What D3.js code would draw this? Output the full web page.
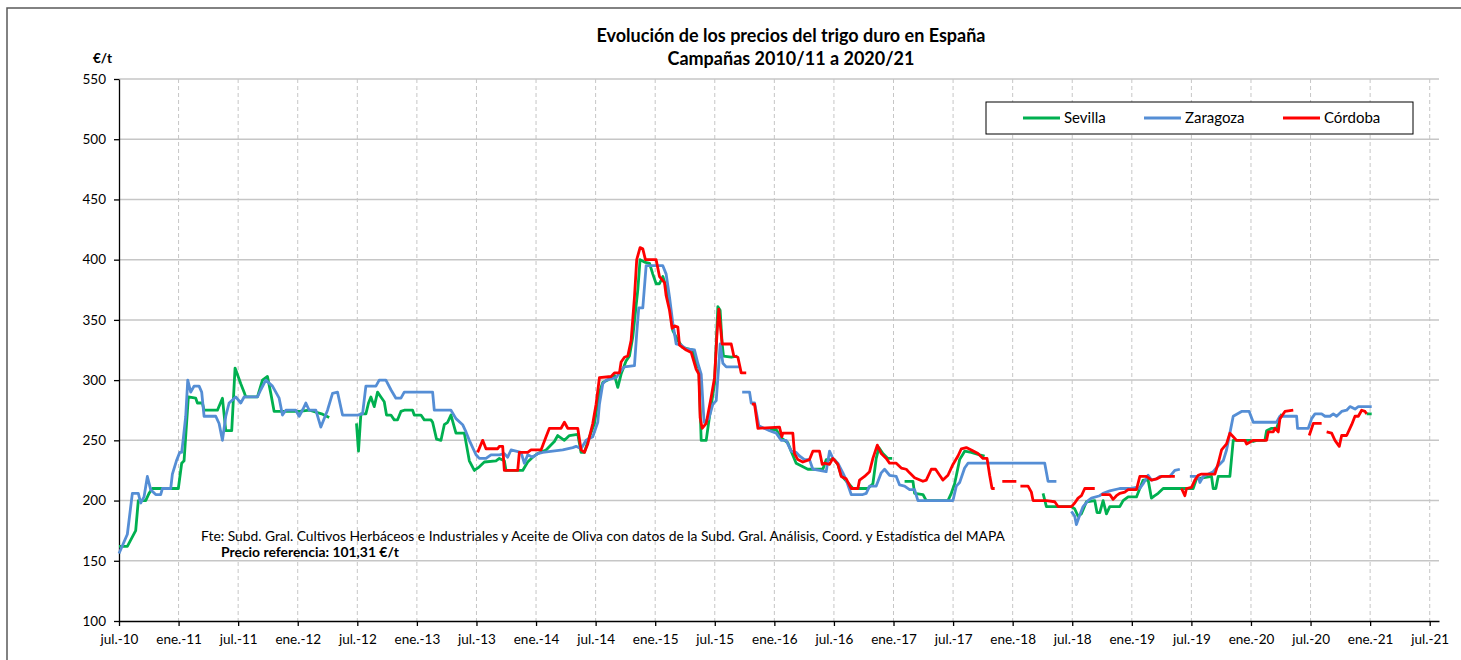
<!DOCTYPE html>
<html>
<head>
<meta charset="utf-8">
<script src="https://d3js.org/d3.v7.min.js"></script>
<style>
  body { margin: 0; background: #fff; }
  text { font-family: Lato, "Open Sans", sans-serif; }
</style>
</head>
<body>
<div id="chart"></div>
<script>

// x = decimal year, y = €/t ; null = no data (gap)
var sevilla = [[2010.50,162],[2010.57,162],[2010.64,175],[2010.662,200],[2010.724,200],[2010.752,206],[2010.78,210],[2010.998,210],[2011.026,231],[2011.046,233],[2011.082,286],[2011.144,285],[2011.158,281],[2011.20,281],[2011.214,275],[2011.326,275],[2011.368,285],[2011.396,258],[2011.446,258],[2011.474,310],[2011.522,297],[2011.55,290],[2011.564,286],[2011.662,286],[2011.704,300],[2011.746,303],[2011.774,289],[2011.802,274],[2012.012,274],[2012.1,275],[2012.2,272],[2012.264,269],[2012.4,null],
  [2012.493,264],[2012.51,241],[2012.53,272],[2012.572,272],[2012.594,281],[2012.614,286],[2012.642,278],[2012.67,290],[2012.698,286],[2012.726,282],[2012.745,271],[2012.782,271],[2012.81,267],[2012.838,267],[2012.866,274],[2012.894,275],[2012.964,275],[2012.978,271],[2013.034,271],[2013.062,267],[2013.118,267],[2013.132,265],[2013.165,251],[2013.202,250],[2013.23,263],[2013.258,265],[2013.286,271],[2013.328,256],[2013.398,256],[2013.44,233],[2013.482,225],[2013.524,228],[2013.566,232],[2013.664,233],[2013.692,235],[2013.734,233],[2013.748,225],[2013.888,225],[2013.93,232],[2013.972,236],[2014.014,239],[2014.084,242],[2014.154,249],[2014.182,254],[2014.238,250],[2014.28,254],[2014.35,255],[2014.378,240],[2014.406,240],[2014.434,249],[2014.49,264],[2014.532,290],[2014.56,298],[2014.602,300],[2014.658,304],[2014.686,294],[2014.714,305],[2014.756,316],[2014.784,320],[2014.812,336],[2014.854,375],[2014.873,400],[2014.91,398],[2014.952,397],[2014.98,388],[2015.008,380],[2015.036,380],[2015.064,386],[2015.092,377],[2015.12,363],[2015.148,341],[2015.19,333],[2015.232,327],[2015.316,325],[2015.344,314],[2015.366,310],[2015.386,250],[2015.428,250],[2015.456,270],[2015.498,297],[2015.526,361],[2015.545,358],[2015.562,330],[2015.573,320],[2015.638,319],[2015.69,320],[2015.8,null],
  [2015.96,259],[2016.015,259],[2016.057,252],[2016.113,248],[2016.141,241],[2016.183,231],[2016.281,226],[2016.407,226],[2016.435,234],[2016.505,234],[2016.533,230],[2016.561,221],[2016.659,210],[2016.785,210],[2016.827,214],[2016.855,235],[2016.877,244],[2016.911,239],[2016.953,235],[2016.989,235],[2017.04,null],
  [2017.093,216],[2017.163,216],[2017.177,206],[2017.247,205],[2017.275,200],[2017.457,200],[2017.485,206],[2017.513,214],[2017.555,234],[2017.597,241],[2017.653,240],[2017.723,238],[2017.765,237],[2018.0,null],
  [2018.255,206],[2018.283,195],[2018.493,195],[2018.521,193],[2018.549,187],[2018.577,189],[2018.619,199],[2018.689,200],[2018.708,190],[2018.731,190],[2018.759,200],[2018.787,189],[2018.815,195],[2018.899,195],[2018.927,200],[2018.969,203],[2019.039,203],[2019.067,210],[2019.095,217],[2019.137,217],[2019.165,202],[2019.193,204],[2019.221,206],[2019.263,210],[2019.515,210],[2019.543,218],[2019.669,220],[2019.683,210],[2019.705,210],[2019.725,220],[2019.823,220],[2019.851,250],[2019.991,250],[2020.019,249],[2020.047,250],[2020.117,250],[2020.131,258],[2020.173,260],[2020.215,260],[2020.243,268],[2020.257,272],[2020.3,null],
  [2020.971,272],[2021.013,272]];

var zaragoza = [[2010.5,156],[2010.57,172],[2010.612,206],[2010.662,206],[2010.682,198],[2010.71,203],[2010.738,220],[2010.766,209],[2010.808,205],[2010.85,205],[2010.864,210],[2010.934,210],[2010.948,222],[2010.982,233],[2011.01,240],[2011.026,240],[2011.038,250],[2011.06,270],[2011.077,300],[2011.102,290],[2011.13,295],[2011.172,295],[2011.194,290],[2011.214,270],[2011.312,270],[2011.34,264],[2011.368,250],[2011.396,270],[2011.424,281],[2011.48,286],[2011.522,281],[2011.55,286],[2011.662,286],[2011.69,292],[2011.732,300],[2011.788,295],[2011.844,285],[2011.872,271],[2011.9,275],[2011.984,275],[2012.012,270],[2012.045,276],[2012.068,281],[2012.096,275],[2012.152,275],[2012.194,261],[2012.25,275],[2012.292,289],[2012.334,290],[2012.376,271],[2012.502,271],[2012.544,272],[2012.572,295],[2012.656,295],[2012.684,300],[2012.74,300],[2012.782,292],[2012.824,285],[2012.866,285],[2012.894,290],[2013.132,290],[2013.146,275],[2013.286,275],[2013.328,268],[2013.384,263],[2013.412,257],[2013.44,250],[2013.496,238],[2013.524,235],[2013.58,235],[2013.622,238],[2013.692,238],[2013.734,239],[2013.762,236],[2013.79,242],[2013.874,240],[2013.902,231],[2013.93,238],[2013.972,236],[2014.014,239],[2014.056,240],[2014.224,242],[2014.308,244],[2014.336,245],[2014.378,243],[2014.42,250],[2014.476,253],[2014.518,265],[2014.532,280],[2014.56,297],[2014.588,300],[2014.672,302],[2014.714,308],[2014.742,311],[2014.826,312],[2014.845,339],[2014.862,360],[2014.896,360],[2014.924,395],[2015.064,395],[2015.092,388],[2015.12,369],[2015.148,347],[2015.176,330],[2015.218,329],[2015.26,326],[2015.33,325],[2015.358,314],[2015.386,305],[2015.41,265],[2015.45,268],[2015.484,280],[2015.512,283],[2015.534,313],[2015.545,330],[2015.568,314],[2015.596,311],[2015.714,311],[2015.722,null],
  [2015.73,290],[2015.792,290],[2015.806,281],[2015.834,281],[2015.87,262],[2015.96,258],[2016.016,256],[2016.057,250],[2016.099,250],[2016.141,241],[2016.183,240],[2016.211,237],[2016.253,234],[2016.295,234],[2016.323,226],[2016.435,224],[2016.463,241],[2016.491,235],[2016.533,231],[2016.575,223],[2016.603,217],[2016.645,205],[2016.743,205],[2016.771,206],[2016.799,212],[2016.855,212],[2016.897,223],[2016.925,226],[2016.967,221],[2017.023,220],[2017.051,213],[2017.093,212],[2017.135,209],[2017.177,209],[2017.205,200],[2017.499,200],[2017.527,212],[2017.555,215],[2017.597,227],[2017.625,231],[2018.269,231],[2018.297,216],[2018.367,216],[2018.43,null],
  [2018.493,191],[2018.521,187],[2018.535,180],[2018.563,188],[2018.591,195],[2018.633,200],[2018.661,202],[2018.731,204],[2018.759,206],[2018.815,208],[2018.899,210],[2018.983,210],[2019.039,211],[2019.067,210],[2019.095,214],[2019.137,221],[2019.165,217],[2019.207,218],[2019.235,220],[2019.319,220],[2019.361,225],[2019.403,226],[2019.44,null],
  [2019.487,220],[2019.557,220],[2019.571,215],[2019.599,220],[2019.683,224],[2019.725,229],[2019.767,233],[2019.795,242],[2019.823,256],[2019.851,270],[2019.921,274],[2019.985,274],[2020.019,265],[2020.215,265],[2020.243,270],[2020.383,270],[2020.391,260],[2020.481,260],[2020.509,268],[2020.537,272],[2020.593,272],[2020.621,270],[2020.663,270],[2020.691,272],[2020.719,270],[2020.761,274],[2020.803,275],[2020.831,278],[2020.873,276],[2020.901,278],[2020.929,278],[2021.013,278]];

var cordoba = [[2013.51,240],[2013.552,250],[2013.58,243],[2013.678,243],[2013.692,245],[2013.72,245],[2013.734,225],[2013.846,225],[2013.86,240],[2013.93,240],[2013.958,242],[2014.042,242],[2014.084,253],[2014.112,260],[2014.21,260],[2014.238,265],[2014.266,260],[2014.35,260],[2014.378,242],[2014.406,240],[2014.434,247],[2014.476,264],[2014.504,280],[2014.532,302],[2014.63,303],[2014.658,306],[2014.7,306],[2014.714,315],[2014.742,319],[2014.77,320],[2014.798,333],[2014.826,369],[2014.845,400],[2014.873,410],[2014.896,409],[2014.918,400],[2015.008,400],[2015.036,386],[2015.078,381],[2015.092,370],[2015.12,358],[2015.142,343],[2015.162,345],[2015.19,344],[2015.204,329],[2015.232,327],[2015.26,325],[2015.302,323],[2015.344,309],[2015.366,305],[2015.377,269],[2015.394,260],[2015.428,264],[2015.47,286],[2015.498,302],[2015.52,341],[2015.534,359],[2015.545,347],[2015.562,330],[2015.638,330],[2015.66,320],[2015.694,319],[2015.722,306],[2015.764,306],[2015.79,null],
  [2015.811,280],[2015.834,280],[2015.862,260],[2016.043,261],[2016.063,253],[2016.071,256],[2016.155,256],[2016.169,239],[2016.197,234],[2016.239,232],[2016.295,234],[2016.323,241],[2016.379,241],[2016.402,230],[2016.421,231],[2016.463,230],[2016.491,235],[2016.533,230],[2016.561,220],[2016.603,218],[2016.645,210],[2016.701,210],[2016.715,217],[2016.757,220],[2016.799,224],[2016.827,235],[2016.864,246],[2016.897,239],[2016.939,235],[2016.967,231],[2017.023,231],[2017.065,227],[2017.107,226],[2017.135,223],[2017.177,219],[2017.247,216],[2017.275,217],[2017.317,226],[2017.353,226],[2017.387,221],[2017.415,217],[2017.457,221],[2017.499,230],[2017.541,237],[2017.569,243],[2017.611,244],[2017.653,242],[2017.709,239],[2017.751,235],[2017.785,235],[2017.807,221],[2017.827,210],[2017.849,210],[2017.88,null],
  [2017.913,216],[2018.031,216],[2018.05,null],
  [2018.065,212],[2018.129,212],[2018.157,207],[2018.171,200],[2018.283,200],[2018.353,199],[2018.381,195],[2018.493,195],[2018.521,198],[2018.549,202],[2018.577,204],[2018.605,210],[2018.689,210],[2018.72,null],
  [2018.745,205],[2018.815,205],[2018.843,201],[2018.871,204],[2018.899,206],[2018.941,207],[2018.969,209],[2019.039,209],[2019.067,220],[2019.123,220],[2019.165,217],[2019.207,218],[2019.249,220],[2019.361,220],[2019.39,null],
  [2019.417,210],[2019.445,204],[2019.459,210],[2019.501,211],[2019.529,217],[2019.557,221],[2019.585,222],[2019.697,222],[2019.725,231],[2019.753,242],[2019.795,247],[2019.823,256],[2019.851,253],[2019.879,250],[2019.949,250],[2019.963,247],[2020.019,250],[2020.131,250],[2020.145,257],[2020.187,257],[2020.201,260],[2020.229,257],[2020.243,268],[2020.285,274],[2020.355,275],[2020.42,null],
  [2020.489,254],[2020.523,264],[2020.593,264],[2020.61,null],
  [2020.635,257],[2020.677,256],[2020.705,250],[2020.741,245],[2020.761,254],[2020.803,254],[2020.845,263],[2020.873,270],[2020.901,270],[2020.929,275],[2020.957,274],[2020.971,272]];

var seriesNames = ["Sevilla", "Zaragoza", "Córdoba"];
var seriesColors = ["#00B050", "#558ED5", "#FF0000"];
var yTicks = [100, 150, 200, 250, 300, 350, 400, 450, 500, 550];
var xTickLabels = ["jul.-10","ene.-11","jul.-11","ene.-12","jul.-12","ene.-13","jul.-13","ene.-14","jul.-14","ene.-15","jul.-15","ene.-16","jul.-16","ene.-17","jul.-17","ene.-18","jul.-18","ene.-19","jul.-19","ene.-20","jul.-20","ene.-21","jul.-21"];

var W = 1461, H = 660;
var plotL = 119, plotR = 1439, plotT = 79, plotB = 621;

var svg = d3.select("#chart").append("svg")
    .attr("width", W).attr("height", H);

// outer frame
svg.append("rect")
    .attr("x", 7).attr("y", 8)
    .attr("width", W).attr("height", H)
    .attr("fill", "#fff")
    .attr("stroke", "#595959").attr("stroke-width", 1.5);

var x = d3.scaleLinear().domain([2010.5, 2021.578]).range([plotL, plotR]);
var y = d3.scaleLinear().domain([100, 550]).range([plotB, plotT]);
var xTickPos = xTickLabels.map(function (d, i) { return 2010.5 + i * 0.5; });

// horizontal grid
svg.append("g").selectAll("line")
  .data(yTicks.slice(1))
  .enter().append("line")
    .attr("x1", plotL).attr("x2", plotR)
    .attr("y1", function (d) { return y(d); })
    .attr("y2", function (d) { return y(d); })
    .attr("stroke", "#c6c6c6").attr("stroke-width", 1.5);

// vertical dashed grid
svg.append("g").selectAll("line")
  .data(xTickPos.slice(1))
  .enter().append("line")
    .attr("x1", function (d) { return x(d); })
    .attr("x2", function (d) { return x(d); })
    .attr("y1", plotT).attr("y2", plotB)
    .attr("stroke", "#c6c6c6").attr("stroke-width", 1)
    .attr("stroke-dasharray", "4,3");

// axes
var yAxis = svg.append("g")
    .attr("transform", "translate(" + plotL + ",0)")
    .call(d3.axisLeft(y).tickValues(yTicks).tickSize(5).tickSizeOuter(0).tickPadding(8));
var xAxis = svg.append("g")
    .attr("transform", "translate(0," + plotB + ")")
    .call(d3.axisBottom(x).tickValues(xTickPos).tickSize(5).tickSizeOuter(0).tickPadding(8)
      .tickFormat(function (d, i) { return xTickLabels[i]; }));
[yAxis, xAxis].forEach(function (a) {
  a.selectAll("path, line").attr("stroke", "#000").attr("stroke-width", 1.3);
  a.selectAll("text").style("font-family", "Lato").style("font-size", "13.5px").attr("fill", "#000");
});

// series lines
var line = d3.line()
    .defined(function (d) { return d[1] != null; })
    .x(function (d) { return x(d[0]); })
    .y(function (d) { return y(d[1]); });

[sevilla, zaragoza, cordoba].forEach(function (data, i) {
  svg.append("path")
      .datum(data)
      .attr("d", line)
      .attr("fill", "none")
      .attr("stroke", seriesColors[i])
      .attr("stroke-width", 2.8)
      .attr("stroke-linejoin", "round");
});

// title
svg.append("text")
    .attr("x", 791).attr("y", 42)
    .attr("text-anchor", "middle")
    .style("font-size", "18px").style("font-weight", "bold")
    .text("Evolución de los precios del trigo duro en España");
svg.append("text")
    .attr("x", 791).attr("y", 65)
    .attr("text-anchor", "middle")
    .style("font-size", "18px").style("font-weight", "bold")
    .text("Campañas 2010/11 a 2020/21");

// unit label
svg.append("text")
    .attr("x", 93).attr("y", 63)
    .style("font-size", "13.5px").style("font-weight", "bold")
    .text("€/t");

// legend
var legend = svg.append("g");
legend.append("rect")
    .attr("x", 986).attr("y", 102)
    .attr("width", 427).attr("height", 32)
    .attr("fill", "#fff")
    .attr("stroke", "#000").attr("stroke-width", 1);
var legendX = [1023, 1144, 1283];
seriesNames.forEach(function (name, i) {
  legend.append("line")
      .attr("x1", legendX[i]).attr("x2", legendX[i] + 37)
      .attr("y1", 118).attr("y2", 118)
      .attr("stroke", seriesColors[i]).attr("stroke-width", 3);
  legend.append("text")
      .attr("x", legendX[i] + 41).attr("y", 123)
      .style("font-size", "15px")
      .text(name);
});

// source notes
svg.append("text")
    .attr("x", 201).attr("y", 541)
    .style("font-size", "13.8px")
    .text("Fte: Subd. Gral. Cultivos Herbáceos e Industriales y Aceite de Oliva con datos de la Subd. Gral. Análisis, Coord. y Estadística del MAPA");
svg.append("text")
    .attr("x", 221).attr("y", 557)
    .style("font-size", "13.9px").style("font-weight", "bold")
    .text("Precio referencia: 101,31 €/t");

</script>
</body>
</html>
